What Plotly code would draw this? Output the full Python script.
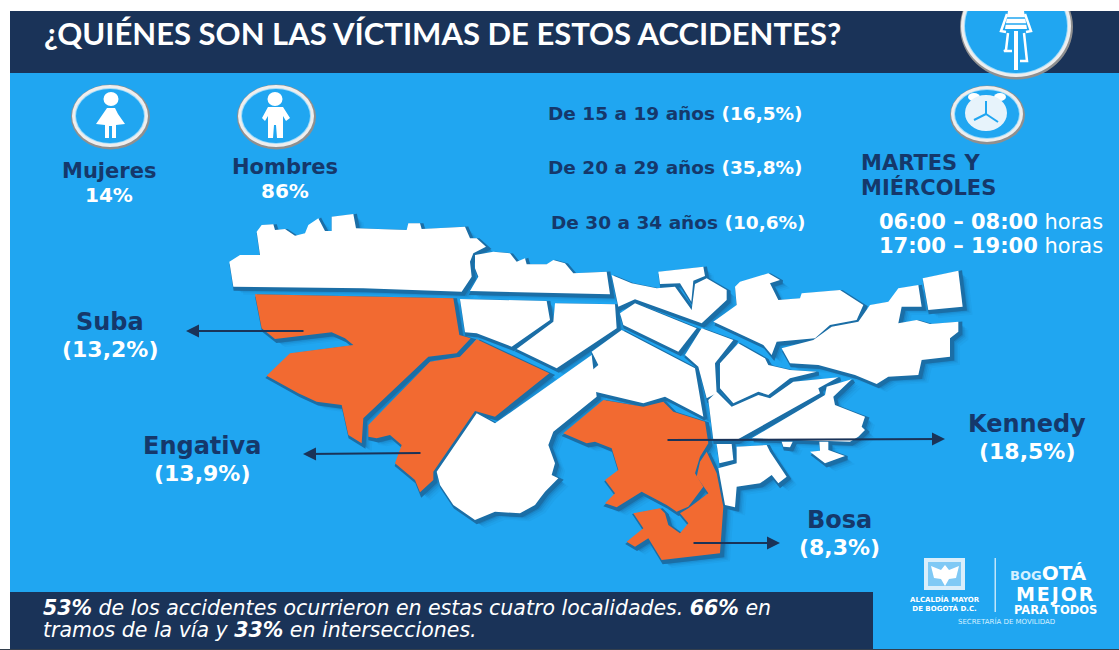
import plotly.graph_objects as go

# ---- contenido ----
titulo = "¿QUIÉNES SON LAS VÍCTIMAS DE ESTOS ACCIDENTES?"
generos = ["Mujeres", "Hombres"]
generos_pct = [14, 86]
edades = ["De 15 a 19 años", "De 20 a 29 años", "De 30 a 34 años"]
edades_pct = [16.5, 35.8, 10.6]
dias = ["MARTES Y", "MIÉRCOLES"]
franjas = ["06:00 – 08:00", "17:00 – 19:00"]
localidades = ["Suba", "Engativa", "Kennedy", "Bosa"]
localidades_pct = [13.2, 13.9, 18.5, 8.3]

NAVY = "#1a3358"
LABEL = "#15386b"
BLUE = "#20a6f1"
ORANGE = "#f26a31"
WHITE = "#ffffff"
SEAM = "#1b6ea6"
FONT = "DejaVu Sans"


def z1(p):
    return [(x / 3 + 220, y / 3 + 205) for x, y in p]


def z2(p):
    return [(x / 3 + 560, y / 3 + 260) for x, y in p]


# ---- contornos del mapa ----
mapa_blanco = [
    z1([(28,170),(60,150),(120,150),(110,80),(125,60),(160,58),(165,75),(195,72),(225,92),(255,85),(265,60),(295,40),(315,78),(335,78),(335,35),(400,27),(408,70),(560,75),(565,55),(600,55),(605,72),(735,65),(750,100),(770,100),(798,125),(760,145),(750,170),(755,215),(725,260),(430,250),(40,245)]),
    z1([(765,150),(820,140),(870,145),(890,170),(915,160),(920,178),(980,178),(1000,165),(1035,175),(1060,205),(1160,200),(1170,268),(750,258),(775,215),(765,190)]),
    z1([(720,282),(980,288),(990,345),(875,425),(770,385),(735,382)]),
    z1([(1005,295),(1185,298),(1190,370),(1010,490),(890,432),(1000,350)]),
    z1([(1115,450),(1130,575),(1000,680),(985,720),(1005,775),(995,810),(1015,820),(975,860),(960,880),(945,900),(900,925),(825,920),(765,945),(700,900),(660,840),(650,800),(770,625),(825,655)]),
    z2([(185,210),(405,325),(430,470),(315,410),(250,430),(105,395),(50,370),(115,315),(95,275)]),
    z2([(155,45),(215,70),(290,85),(345,80),(395,150),(405,72),(440,55),(500,90),(500,120),(425,190),(225,118),(175,140)]),
    z2([(295,35),(430,20),(435,48),(400,62),(394,125),(360,70),(300,72)]),
    z2([(180,160),(225,130),(410,205),(355,275),(190,195)]),
    z2([(425,205),(520,240),(465,310),(470,400),(440,415),(415,320),(375,285)]),
    z2([(460,185),(530,135),(525,80),(540,65),(625,40),(660,60),(630,70),(655,120),(720,115),(725,100),(840,90),(910,135),(890,180),(810,195),(765,235),(650,245),(635,285),(610,255),(525,215)]),
    z2([(665,265),(760,240),(815,200),(895,185),(930,135),(985,125),(1015,85),(1075,75),(1085,140),(1025,140),(1015,190),(1070,180),(1110,192),(1195,185),(1195,215),(1170,235),(1170,290),(1085,300),(1075,345),(985,350),(950,372),(885,345),(775,315),(690,310)]),
    z2([(1088,55),(1195,32),(1208,140),(1105,150)]),
    z2([(480,310),(535,250),(615,295),(625,315),(690,330),(770,335),(690,355),(625,405),(595,395),(520,430),(480,385)]),
    z2([(445,420),(470,395),(515,440),(595,405),(630,415),(700,365),(835,352),(775,385),(780,400),(530,540),(460,540)]),
    z2([(575,535),(795,405),(800,380),(875,358),(820,410),(825,435),(915,470),(905,500),(915,510),(895,530),(870,545)]),
    z2([(665,545),(698,545),(690,562),(670,560)]),
    z2([(750,575),(780,572),(778,545),(805,545),(805,570),(855,588),(795,610)]),
    z2([(470,552),(515,552),(520,600),(478,610)]),
    z2([(530,560),(620,555),(630,575),(680,650),(655,670),(635,645),(600,670),(530,680),(525,742),(495,735),(475,625),(530,610)]),
]
mapa_naranja = [
    z1([(105,268),(700,280),(718,390),(752,400),(710,445),(625,455),(430,640),(425,715),(385,690),(365,600),(290,590),(235,565),(140,512),(210,445),(400,420),(375,400),(335,382),(165,402),(125,370)]),
    z1([(770,403),(988,505),(825,635),(765,618),(640,800),(640,825),(600,862),(585,825),(525,775),(545,720),(510,690),(470,700),(445,695),(445,660),(630,470),(720,455)]),
    z2([(130,420),(250,440),(310,425),(340,455),(435,485),(445,550),(420,590),(405,640),(430,680),(385,740),(350,755),(320,735),(245,695),(170,742),(135,730),(165,700),(135,660),(175,630),(155,565),(105,545),(80,550),(10,520)]),
    z2([(440,575),(470,640),(490,740),(480,880),(305,900),(265,835),(225,860),(200,845),(250,805),(220,760),(300,745),(315,760),(325,795),(360,820),(385,790),(360,760),(385,745),(445,700),(410,650),(420,605)]),
]

# ---- iconos ----
mujer = [(107,108),(115,108),(118,114),(125,124),(116,125),(116,138),(112,138),(112,126),(109,126),(109,138),(105,138),(105,125),(96,124),(103,114)]
hombre = [(262,118),(268,107),(283,107),(290,118),(286,121),(283,116),(283,138),(277,138),(276,125),(274,125),(273,138),(268,138),(268,116),(265,121)]
torso = [(1008,11),(1024,11),(1027,29),(1005,29)]
franjas_torso = [[(1006,18),(1026,18)], [(1005,24),(1027,24)]]
brazos = [[(1007,14),(1001,31),(1006,32)], [(1025,14),(1031,31),(1026,32)]]
piernas = [[(1008,33),(1006,50),(1004,51),(1012,51)], [(1024,33),(1027,61),(1020,61)]]
rueda = [(1016,31),(1016,70)]
aguila = [(945,565),(949,570),(959,566),(956,578),(949,579),(945,586),(941,579),(934,578),(931,566),(941,570)]

fig = go.Figure()


def relleno(p, color, lw=0):
    fig.add_trace(go.Scatter(x=[a for a, _ in p] + [p[0][0]], y=[b for _, b in p] + [p[0][1]],
                             mode="lines", fill="toself", fillcolor=color,
                             line=dict(width=lw, color=color),
                             hoverinfo="skip", showlegend=False))


def linea(p, color, w):
    fig.add_trace(go.Scatter(x=[a for a, _ in p], y=[b for _, b in p], mode="lines",
                             line=dict(color=color, width=w), hoverinfo="skip", showlegend=False))


todos = mapa_blanco + mapa_naranja
for d, a in [(10, 0.06), (8, 0.08), (6.5, 0.12), (5, 0.2)]:
    for p in todos:
        relleno([(x + d, y + d * 0.8) for x, y in p], f"rgba(20,78,128,{a})")
for p in todos:
    relleno([(x + 2, y + 2) for x, y in p], SEAM, lw=4)
for p in mapa_blanco:
    relleno(p, WHITE)
for p in mapa_naranja:
    relleno(p, ORANGE)

relleno(mujer, WHITE)
relleno(hombre, WHITE)
relleno(torso, WHITE)
for p in franjas_torso:
    linea(p, BLUE, 1.5)
for p in brazos + piernas:
    linea(p, WHITE, 2.5)
linea(rueda, WHITE, 4)
relleno(aguila, WHITE)


def rect(x0, y0, x1, y1, color, layer="below"):
    return dict(type="rect", xref="x", yref="y", x0=x0, y0=y0, x1=x1, y1=y1,
                fillcolor=color, line=dict(width=0), layer=layer)


def elipse(cx, cy, rx, ry, fill, line=None, w=0, layer="below"):
    return dict(type="circle", xref="x", yref="y", x0=cx - rx, y0=cy - ry, x1=cx + rx, y1=cy + ry,
                fillcolor=fill, line=dict(color=line or fill, width=w), layer=layer)


shapes = [
    rect(10, 11, 1119, 649, BLUE),
    rect(10, 11, 1119, 73, NAVY),
    rect(10, 592, 873, 649, NAVY),
    rect(0, 649, 1119, 650, "#333f4d"),
]
for cx, cy, rx, ry in [(110, 116, 38, 31), (276, 116, 38, 31), (987, 114, 36, 28), (1016, 26, 55, 51)]:
    shapes.append(elipse(cx + 0.5, cy + 1, rx + 1.5, ry + 1.5, "#8f8f8f"))
    shapes.append(elipse(cx, cy, rx, ry, "#eeeeee"))
    shapes.append(elipse(cx, cy, rx - 3, ry - 3, "#9fdcfb"))
    shapes.append(elipse(cx, cy, rx - 4, ry - 4, BLUE))
shapes.append(elipse(111, 99, 7.5, 7, WHITE, layer="above"))
shapes.append(elipse(275, 99, 7.5, 7, WHITE, layer="above"))
shapes += [
    elipse(974, 97, 6, 4, WHITE, layer="above"),
    elipse(1000, 97, 6, 4, WHITE, layer="above"),
    elipse(986, 113, 21, 18, "#e7f3fb", layer="above"),
    dict(type="line", xref="x", yref="y", x0=986, y0=114, x1=986, y1=101, line=dict(color=BLUE, width=2), layer="above"),
    dict(type="line", xref="x", yref="y", x0=986, y0=114, x1=974, y1=120, line=dict(color=BLUE, width=2), layer="above"),
    dict(type="line", xref="x", yref="y", x0=986, y0=114, x1=998, y1=122, line=dict(color=BLUE, width=2), layer="above"),
    rect(924, 558, 965, 590, "#d9eefb"),
    rect(928, 562, 961, 586, "#7fc9f5"),
    rect(994.5, 558, 996, 612, "#bfe5fb", layer="above"),
    rect(0, 0, 1119, 11, WHITE, layer="above"),
]
# restos de la línea de texto recortada encima del cartel
linea([(190.5, 0), (188.5, 3.5)], "#111111", 1.6)
linea([(345, 0), (341, 3.5), (336, 4)], "#111111", 1.6)

ann = []


def txt(x, y, s, size, color, anchor="center", family=FONT):
    ann.append(dict(x=x, y=y, xref="x", yref="y", text=s, showarrow=False, xanchor=anchor, yanchor="middle",
                    font=dict(family=family, size=size, color=color)))


def pct(v):
    return f"{v:g}".replace(".", ",") + "%"


txt(42, 33, f"<b>{titulo}</b>", 31, WHITE, "left", "Lato")

for (xc, yn, yp), g, v in zip([(109, 171, 195), (285, 167, 191)], generos, generos_pct):
    txt(xc, yn, f"<b>{g}</b>", 21, LABEL)
    txt(xc, yp, f"<b>{v}%</b>", 20, WHITE)

for (xc, yc), e, v in zip([(675, 113), (675, 167), (678, 222)], edades, edades_pct):
    txt(xc, yc, f"<b><span style='color:{LABEL}'>{e}</span> ({pct(v)})</b>", 18.5, WHITE)

for yc, d in zip([163, 187], dias):
    txt(859, yc, f"<b>{d}</b>", 21, LABEL, "left")
for yc, f in zip([222, 246], franjas):
    txt(877, yc, f"<b>{f}</b> horas", 21, WHITE, "left")

lugares = [(110, 322, 349), (202, 446, 473), (1027, 424, 451), (839, 520, 547)]
flechas = [((305, 331), (186, 331)), ((422, 453), (303, 454)), ((666, 440), (945, 439)), ((692, 543), (780, 543))]
for (xc, yn, yp), l, v, (a, b) in zip(lugares, localidades, localidades_pct, flechas):
    txt(xc, yn, f"<b>{l}</b>", 24, LABEL)
    txt(xc, yp, f"<b>({pct(v)})</b>", 22, WHITE)
    ann.append(dict(x=b[0], y=b[1], ax=a[0], ay=a[1], xref="x", yref="y", axref="x", ayref="y", text="",
                    showarrow=True, arrowhead=2, arrowsize=1.3, arrowwidth=2, arrowcolor=NAVY))

txt(41, 608, "<b><i>53%</i></b><i> de los accidentes ocurrieron en estas cuatro localidades. </i><b><i>66%</i></b><i> en</i>", 20.5, WHITE, "left")
txt(41, 630, "<i>tramos de la vía y </i><b><i>33%</i></b><i> en intersecciones.</i>", 20.5, WHITE, "left")

txt(945, 604, "<b>ALCALDÍA MAYOR<br>DE BOGOTÁ D.C.</b>", 7, WHITE)
txt(1008, 573, "<b><span style='font-size:13px;color:#d5f0ff'>BOG</span>OTÁ</b>", 20, WHITE, "left")
txt(1055, 594, "<b>M\u200aE\u200aJ\u200aO\u200aR</b>", 19, WHITE)
txt(1055, 610, "<b>PARA TODOS</b>", 11.5, WHITE)
txt(1006, 621, "SECRETARÍA DE MOVILIDAD", 7, "#d5f0ff")

fig.update_layout(
    width=1119, height=650, margin=dict(l=0, r=0, t=0, b=0),
    paper_bgcolor=WHITE, plot_bgcolor=WHITE, showlegend=False,
    xaxis=dict(range=[0, 1119], visible=False, fixedrange=True),
    yaxis=dict(range=[650, 0], visible=False, fixedrange=True),
    shapes=shapes, annotations=ann,
)
fig.write_html("out.html", config={"displayModeBar": False},
               post_script="document.body.style.margin='0';document.body.style.overflow='hidden';")
